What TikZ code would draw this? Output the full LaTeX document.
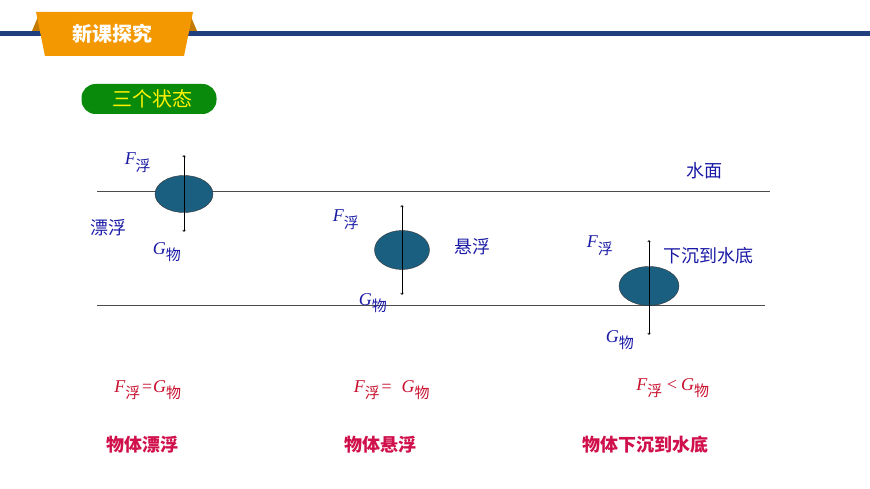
\documentclass[tikz,border=0pt]{standalone}
\usepackage{fontspec}
\setmainfont{Liberation Serif}
\newfontfamily\cjk{Noto Sans CJK SC}
\definecolor{navy}{HTML}{1F3F7F}
\definecolor{orng}{HTML}{F39800}
\definecolor{grn}{HTML}{0A8A0A}
\definecolor{bluet}{HTML}{1A1AA6}
\definecolor{redt}{HTML}{C8102E}
\definecolor{pinkt}{HTML}{D0104C}
\definecolor{ball}{HTML}{1B5F80}
\usetikzlibrary{shapes.geometric,arrows.meta}
\tikzset{
 lbl/.style={text=bluet,font=\cjk\fontsize{18}{18}\selectfont},
 sym/.style={text=bluet,font=\itshape\fontsize{18}{18}\selectfont,inner sep=0},
 eq/.style={text=redt,font=\itshape\fontsize{18}{18}\selectfont},
 captxt/.style={text=pinkt,font=\cjk\bfseries\fontsize{18}{18}\selectfont},
 obj/.style={ellipse,draw=black!80,fill=ball,thin},
 force/.style={draw=black,line width=0.7pt,-{Straight Barb[length=1.5pt,width=2.5pt]}},
}
\newcommand{\sub}[1]{\textsubscript{\cjk\upshape\fontsize{15}{15}\selectfont #1}}
\begin{document}
\begin{tikzpicture}[x=1pt,y=-1pt]
\useasboundingbox (0,0) rectangle (870,489);
\fill[navy] (0,31) rectangle (870,36);
\fill[orng!80!black] (32,31) -- (40,12) -- (44,31) -- cycle;
\fill[orng!80!black] (197,31) -- (189,12) -- (185,31) -- cycle;
\fill[orng] (36,12) -- (193,12) -- (184,56) -- (45,56) -- cycle;
\node[text=white,font=\cjk\bfseries\fontsize{20}{20}\selectfont] (hd) at (112,34) {新课探究};
\node[fill=grn,rounded corners=14pt,minimum width=135pt,minimum height=30pt,text=yellow,font=\cjk\fontsize{20}{20}\selectfont] (st) at (149,99) {\hspace{6pt}三个状态};
\draw[black!70] (97,191) coordinate (s1) -- (770,191) coordinate (s2);
\draw[black!70] (97,305) coordinate (b1) -- (765,305) coordinate (b2);
% object 1
\node[obj,minimum width=58pt,minimum height=37pt] (o1) at (184,194) {};
\coordinate (t1) at (184,155); \coordinate (u1) at (184,232);
\draw[force] (o1.center) -- (t1); \draw[force] (o1.center) -- (u1);
\node[sym] (f1) at (138,163) {F\sub{浮}};
\node[sym] (g1) at (167,252) {G\sub{物}};
\node[lbl] (n1) at (108,228) {漂浮};
% object 2
\node[obj,minimum width=55pt,minimum height=39pt] (o2) at (402,250) {};
\coordinate (t2) at (402,205); \coordinate (u2) at (402,295);
\draw[force] (o2.center) -- (t2); \draw[force] (o2.center) -- (u2);
\node[sym] (f2) at (346,220) {F\sub{浮}};
\node[sym] (g2) at (373,303) {G\sub{物}};
\node[lbl] (n2) at (472,247) {悬浮};
% object 3
\node[obj,minimum width=60pt,minimum height=39pt] (o3) at (649,286) {};
\coordinate (t3) at (649,240); \coordinate (u3) at (649,335);
\draw[force] (o3.center) -- (t3); \draw[force] (o3.center) -- (u3);
\node[sym] (f3) at (600,246) {F\sub{浮}};
\node[sym] (g3) at (620,340) {G\sub{物}};
\node[lbl] (n3) at (708,256) {下沉到水底};
\node[lbl] (wm) at (704,171) {水面};
% equations
\node[eq] (e1) at (148,390) {F\sub{浮}=G\sub{物}};
\node[eq] (e2) at (392,390) {F\sub{浮}=\ \ G\sub{物}};
\node[eq] (e3) at (673,388) {F\sub{浮}\,<\,G\sub{物}};
\node[captxt] (c1) at (142,445) {物体漂浮};
\node[captxt] (c2) at (380,445) {物体悬浮};
\node[captxt] (c3) at (645,445) {物体下沉到水底};
\end{tikzpicture}
\end{document}
